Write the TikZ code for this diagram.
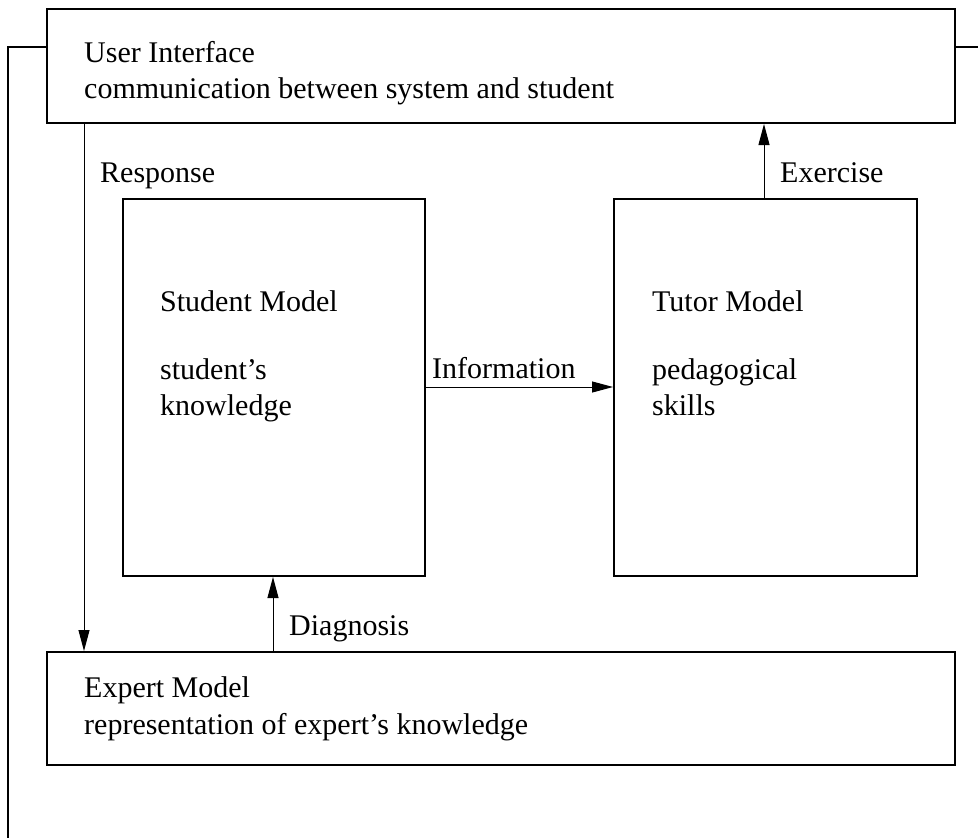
\documentclass[tikz,border=0pt]{standalone}
\usepackage{fontspec}
\setmainfont{Liberation Serif}
\usetikzlibrary{arrows.meta}
\begin{document}
\begin{tikzpicture}[x=1pt,y=-1pt,
  font=\fontsize{30}{36}\selectfont,
  box/.style={draw,line width=2pt,rectangle,inner sep=0pt,anchor=north west},
  txt/.style={inner sep=0pt,anchor=base west},
  arr/.style={line width=1pt,-{Triangle[length=21pt,width=11pt]}},
  frame/.style={line width=2pt}]
\useasboundingbox (0,0) rectangle (978,838);

% modules
\node[box,minimum width=908pt,minimum height=114pt] (ui) at (46,8) {};
\node[box,minimum width=302pt,minimum height=377pt] (student) at (122,198) {};
\node[box,minimum width=303pt,minimum height=377pt] (tutor) at (613,198) {};
\node[box,minimum width=908pt,minimum height=113pt] (expert) at (46,651) {};

% module texts
\node[txt] (uititle) at (84,62) {User Interface};
\node[txt] (uitxt) at (84,98) {communication between system and student};
\node[txt] (sttitle) at (160,311) {Student Model};
\node[txt] (sttxta) at (160,379) {student's};
\node[txt] (sttxtb) at (160,415) {knowledge};
\node[txt] (tutitle) at (652,311) {Tutor Model};
\node[txt] (tutxta) at (652,379) {pedagogical};
\node[txt] (tutxtb) at (652,415) {skills};
\node[txt] (extitle) at (84,697) {Expert Model};
\node[txt] (extxt) at (84,734) {representation of expert's knowledge};

% connector positions
\coordinate (rx) at (84,0);
\coordinate (ex) at (764,0);
\coordinate (dx) at (273,0);
\coordinate (iy) at (0,387);
\coordinate (fy) at (0,47);
\coordinate (fl) at (8,47);
\coordinate (fb) at (8,838);
\coordinate (fr) at (978,47);

% connectors
\draw[arr] (ui.south -| rx) -- (expert.north -| rx);
\draw[arr] (tutor.north -| ex) -- (ui.south -| ex);
\draw[arr] (student.east |- iy) -- (tutor.west |- iy);
\draw[arr] (expert.north -| dx) -- (student.south -| dx);
\draw[frame] (ui.west |- fy) -- (fl) -- (fb);
\draw[frame] (ui.east |- fy) -- (fr);

% connector labels
\node[txt] (lresp) at (100,182) {Response};
\node[txt] (lex) at (780,182) {Exercise};
\node[txt] (linfo) at (432,378) {Information};
\node[txt] (ldiag) at (289,635) {Diagnosis};
\end{tikzpicture}
\end{document}
